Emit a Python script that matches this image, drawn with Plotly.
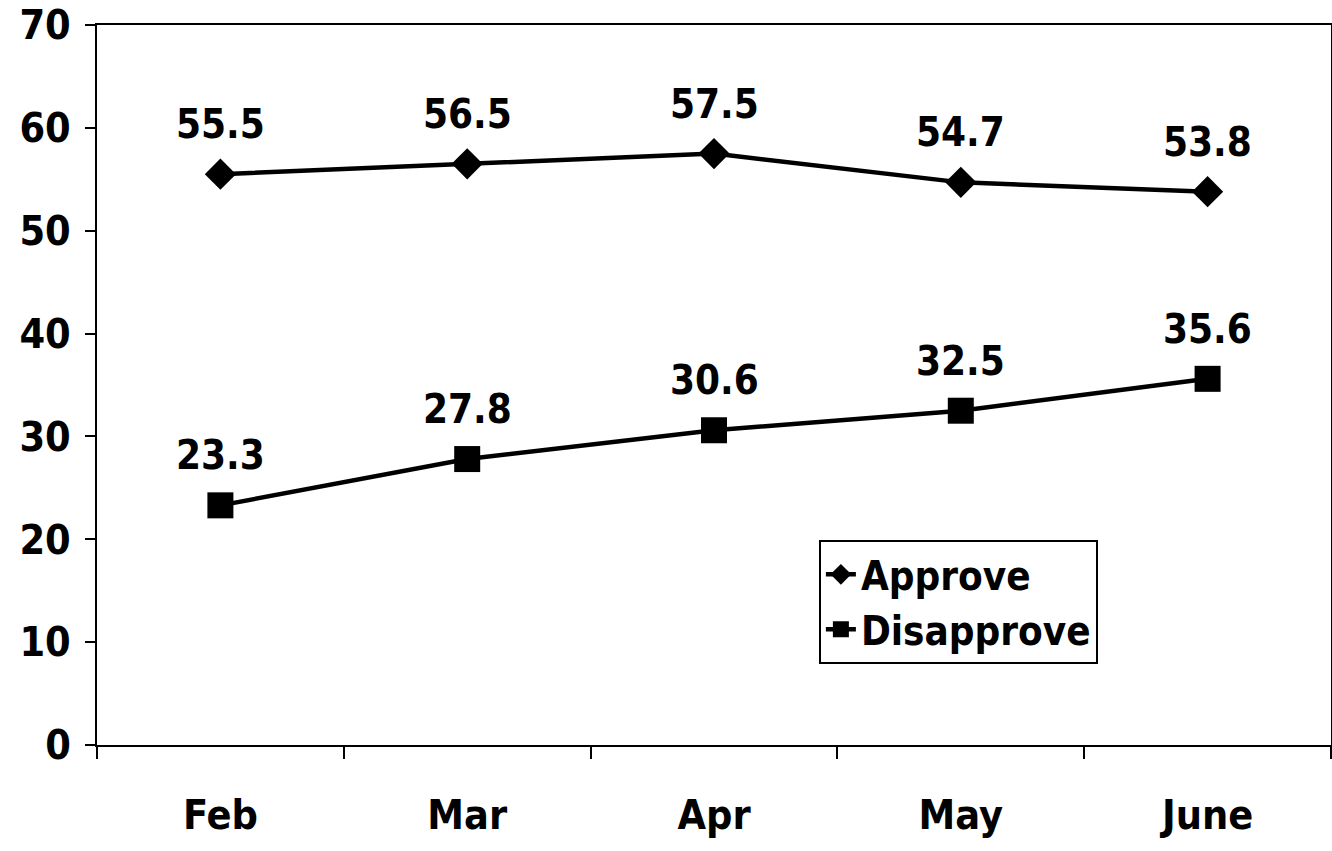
import plotly.graph_objects as go

months = ["Feb", "Mar", "Apr", "May", "June"]
approve = [55.5, 56.5, 57.5, 54.7, 53.8]
disapprove = [23.3, 27.8, 30.6, 32.5, 35.6]
y_ticks = [0, 10, 20, 30, 40, 50, 60, 70]

FONT = "DejaVu Sans Condensed, Liberation Sans, Arial, sans-serif"

fig = go.Figure()
fig.add_trace(go.Scatter(
    x=months, y=approve, name="<b>Approve</b>", mode="lines+markers",
    line=dict(color="black", width=4.5),
    marker=dict(symbol="diamond", size=24, color="black"),
))
fig.add_trace(go.Scatter(
    x=months, y=disapprove, name="<b>Disapprove</b>", mode="lines+markers",
    line=dict(color="black", width=4.5),
    marker=dict(symbol="square", size=26, color="black"),
))

for series in (approve, disapprove):
    for m, v in zip(months, series):
        fig.add_annotation(x=m, y=v, text=f"<b>{v}</b>", showarrow=False,
                           yshift=50, font=dict(family=FONT, size=40, color="black"))

fig.update_layout(
    width=1332, height=851,
    margin=dict(l=97, r=1, t=25, b=106),
    paper_bgcolor="white", plot_bgcolor="white",
    font=dict(family=FONT, color="black"),
    showlegend=True,
    legend=dict(
        x=0.585, y=0.285, xanchor="left", yanchor="top",
        bordercolor="black", borderwidth=2, bgcolor="white",
        font=dict(family=FONT, size=40, color="black"),
        itemsizing="trace", tracegroupgap=0,
    ),
)
fig.update_xaxes(
    type="category", range=[-0.5, 4.5], tickson="boundaries",
    ticks="outside", ticklen=12, tickwidth=2, tickcolor="black",
    showline=True, linecolor="black", linewidth=2, mirror=True,
    showgrid=False, automargin=False, ticklabeloverflow="allow",
    tickfont=dict(family=FONT, size=41, color="black"),
    tickprefix="<b>", ticksuffix="</b>",
    ticklabelstandoff=33,
)
fig.update_yaxes(
    range=[0, 70], tickvals=y_ticks,
    ticktext=[f"<b>{t}</b>" for t in y_ticks],
    ticks="outside", ticklen=10, tickwidth=2, tickcolor="black",
    showline=True, linecolor="black", linewidth=2, mirror=True,
    showgrid=False, zeroline=False, automargin=False, ticklabeloverflow="allow",
    tickfont=dict(family=FONT, size=41, color="black"),
    ticklabelstandoff=6,
)

# remove the browser's default 8px body margin so the figure fills the window
fig.write_html("out.html",
               config={"displayModeBar": False},
               post_script="document.body.style.margin='0px';document.body.style.overflow='hidden';")
